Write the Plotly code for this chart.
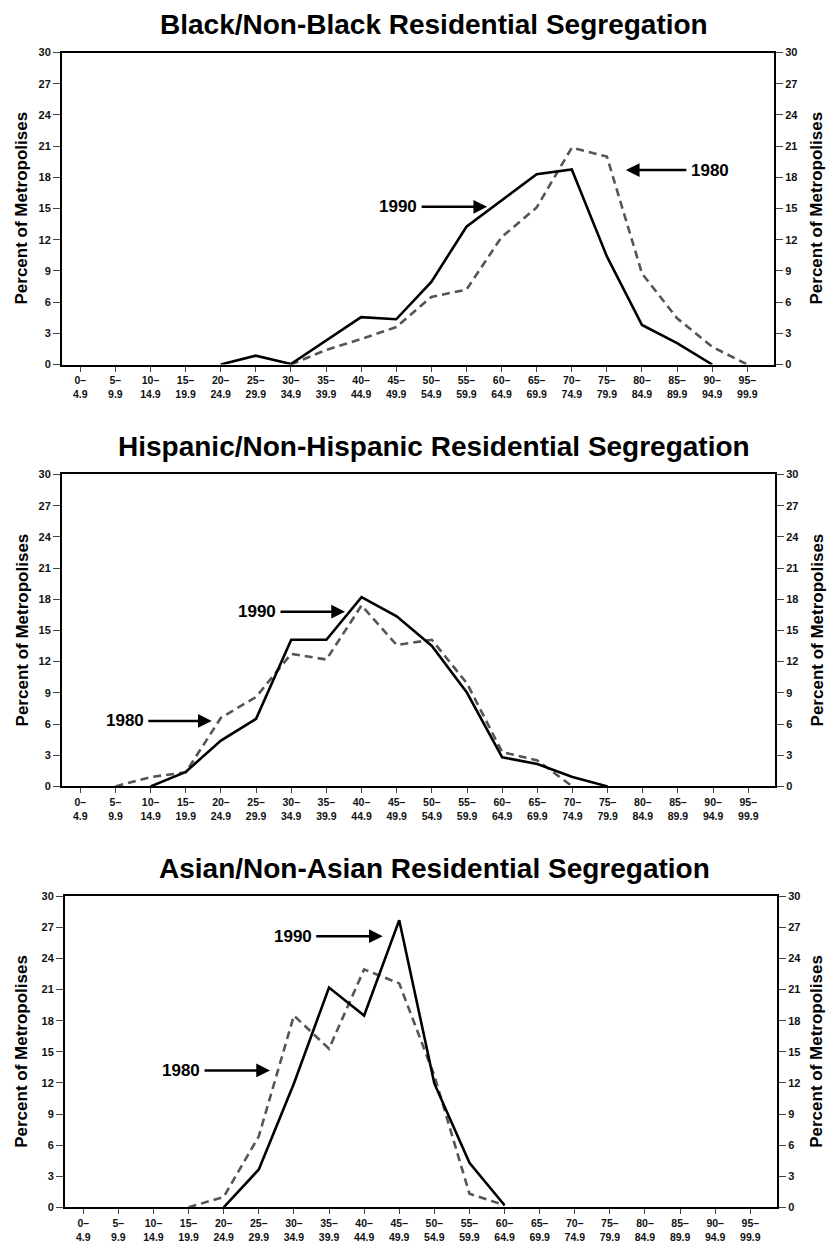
import plotly.graph_objects as go

W, H = 835, 1245

# ---------------- data ----------------
categories = ["0–<br>4.9", "5–<br>9.9", "10–<br>14.9", "15–<br>19.9", "20–<br>24.9",
              "25–<br>29.9", "30–<br>34.9", "35–<br>39.9", "40–<br>44.9", "45–<br>49.9",
              "50–<br>54.9", "55–<br>59.9", "60–<br>64.9", "65–<br>69.9", "70–<br>74.9",
              "75–<br>79.9", "80–<br>84.9", "85–<br>89.9", "90–<br>94.9", "95–<br>99.9"]
y_ticks = [0, 3, 6, 9, 12, 15, 18, 21, 24, 27, 30]

titles = ["Black/Non-Black Residential Segregation",
          "Hispanic/Non-Hispanic Residential Segregation",
          "Asian/Non-Asian Residential Segregation"]

black_1990 = [None, None, None, None, 0, 0.85, 0.05, 2.3, 4.55, 4.35,
              7.95, 13.25, 15.8, 18.3, 18.75, 10.4, 3.8, 2.05, 0, None]
black_1980 = [None, None, None, None, None, None, 0, 1.4, 2.45, 3.6,
              6.5, 7.2, 12.25, 15.1, 20.85, 20.0, 8.75, 4.45, 1.7, 0]

hisp_1990 = [None, None, 0, 1.4, 4.4, 6.5, 14.1, 14.1, 18.2, 16.35,
             13.5, 9.0, 2.8, 2.15, 0.9, 0, None, None, None, None]
hisp_1980 = [None, 0, 0.9, 1.35, 6.6, 8.6, 12.75, 12.2, 17.4, 13.6,
             14.1, 9.9, 3.3, 2.5, 0, None, None, None, None, None]

asian_1990 = [None, None, None, None, 0, 3.65, 11.95, 21.2, 18.5, 27.7,
              11.95, 4.3, 0.2, None, None, None, None, None, None, None]
asian_1980 = [None, None, None, 0, 1.0, 6.85, 18.5, 15.3, 22.95, 21.6,
              12.7, 1.3, 0.2, None, None, None, None, None, None, None]

series_1990 = [black_1990, hisp_1990, asian_1990]
series_1980 = [black_1980, hisp_1980, asian_1980]

# label arrows: (x head, y head, text offset px) per panel
labels_1990 = [(11.59, 15.17, -89), (7.53, 16.8, -88), (8.53, 26.15, -90)]
labels_1980 = [(15.54, 18.7, 84), (3.74, 6.3, -87), (5.32, 13.2, -89)]

# ---------------- layout geometry (pixels) ----------------
panels_px = [  # left, right, top, bottom
    (62, 774, 47, 362),
    (62, 775, 473, 788),
    (65, 777, 899, 1213),
]
title_y_px = [19, 445, 871]

FONT = "Liberation Sans, Arial, sans-serif"

fig = go.Figure()
layout = dict(
    width=W, height=H,
    margin=dict(l=0, r=0, t=0, b=0),
    paper_bgcolor="white", plot_bgcolor="white",
    showlegend=False,
    font=dict(family=FONT, color="black"),
)
annotations = []
x_idx = list(range(len(categories)))

for i in range(3):
    l, r, t, b = panels_px[i]
    xd = [l / W, r / W]
    yd = [(H - b) / H, (H - t) / H]
    xn = "x" if i == 0 else f"x{i+1}"
    yl = 2 * i + 1
    yr = 2 * i + 2
    yln = "y" if yl == 1 else f"y{yl}"
    yrn = f"y{yr}"

    # 1980 on the left axis, 1990 on the right axis (identical 0-30 ranges)
    fig.add_trace(go.Scatter(x=x_idx, y=series_1980[i], mode="lines", xaxis=xn, yaxis=yln,
                             line=dict(color="#555555", width=2.6, dash="8px,5px"),
                             connectgaps=False, name="1980"))
    fig.add_trace(go.Scatter(x=x_idx, y=series_1990[i], mode="lines", xaxis=xn, yaxis=yrn,
                             line=dict(color="black", width=2.6),
                             connectgaps=False, name="1990"))

    xkey = "xaxis" if i == 0 else f"xaxis{i+1}"
    layout[xkey] = dict(
        domain=xd, anchor=yln, range=[-0.52, 19.76],
        tickmode="array", tickvals=x_idx, ticktext=categories,
        ticks="outside", ticklen=5, tickcolor="#444", tickwidth=1,
        showline=True, linecolor="black", linewidth=2, mirror=True,
        showgrid=False, zeroline=False, fixedrange=True,
        tickfont=dict(family=FONT, size=10.5, weight="bold", color="#111"),
    )
    ycommon = dict(
        domain=yd, anchor=xn, range=[0, 30],
        tickmode="array", tickvals=y_ticks,
        ticks="outside", ticklen=7, tickcolor="#444", tickwidth=1,
        showline=True, linecolor="black", linewidth=2,
        showgrid=False, zeroline=False, fixedrange=True,
        tickfont=dict(family=FONT, size=11, weight="bold", color="#111"),
    )
    ylkey = "yaxis" if yl == 1 else f"yaxis{yl}"
    layout[ylkey] = dict(ycommon, side="left")
    layout[f"yaxis{yr}"] = dict(ycommon, side="right", overlaying=yln)

    # panel title
    annotations.append(dict(text=titles[i], xref="paper", yref="paper",
                            x=434 / W, y=(H - title_y_px[i]) / H,
                            xanchor="center", yanchor="middle", showarrow=False,
                            font=dict(family=FONT, size=28, weight="bold", color="black")))
    # y axis titles (both sides)
    ymid = (H - (t + b) / 2) / H
    for xpx in (22, 817):
        annotations.append(dict(text="Percent of Metropolises", xref="paper", yref="paper",
                                x=xpx / W, y=ymid, textangle=-90,
                                xanchor="center", yanchor="middle", showarrow=False,
                                font=dict(family=FONT, size=17, weight="bold", color="black")))
    # arrow labels
    for (hx, hy, off), txt in ((labels_1990[i], "1990"), (labels_1980[i], "1980")):
        annotations.append(dict(text=txt, xref=xn, yref=yln, x=hx, y=hy,
                                ax=off, ay=0, axref="pixel", ayref="pixel",
                                showarrow=True, arrowhead=2, arrowsize=1.1, arrowwidth=2.5,
                                arrowcolor="black", standoff=0, startstandoff=3,
                                font=dict(family=FONT, size=17, weight="bold", color="black")))

layout["annotations"] = annotations
fig.update_layout(**layout)
fig.write_html("out.html", config={"displayModeBar": False},
               post_script="document.body.style.margin='0';document.body.style.overflow='hidden';")
